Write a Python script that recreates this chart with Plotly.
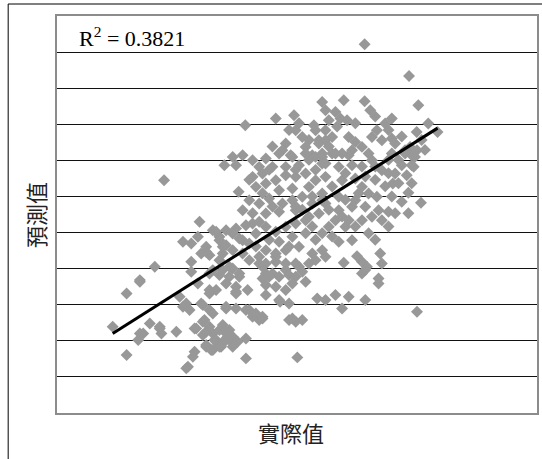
import plotly.graph_objects as go

actual = [
    928, 1062, 800, 865, 928, 945, 810, 1090, 840, 855, 875, 1010, 990, 1120, 1148, 1085,
    810, 830, 790, 880, 900, 920, 890, 860, 965, 950, 980, 1010, 1020, 1050, 1070, 800, 830, 940,
    660, 568, 715, 730, 775, 720, 740, 780, 750, 790, 690, 680, 705, 770, 810,
    530, 560, 505, 540, 590, 630, 670, 710, 750, 780, 800, 610, 730, 690, 650,
    590, 620, 630, 660, 690, 720, 750, 780, 810, 600, 670, 710, 760, 548,
    580, 610, 640, 680, 710, 740, 770, 800, 560, 630, 670, 720, 760, 430,
    470, 490, 530, 560, 600, 630, 660, 690, 720, 750, 710, 670,
    450, 500, 530, 560, 490, 520, 580, 630, 660, 690, 730, 770, 780, 620, 650, 690, 730, 550, 460,
    800, 840, 880, 810, 850, 890, 860, 900, 1010, 1050, 1080, 1040, 1070, 1020, 1055,
    990, 1060, 1040, 1098, 920, 940, 965, 900, 850, 810, 850, 890, 930, 970, 1000, 980, 950,
    920, 880, 840, 870, 820, 790, 800, 950, 980, 850, 890, 800, 810, 905, 865, 975, 980, 935, 920, 970,
    480, 510, 540, 570, 590, 610, 380, 405, 425, 490, 510, 550, 580, 500, 450, 435, 460,
    405, 295, 250, 405, 470, 500, 530, 550, 520, 490, 510, 540, 425, 460, 480, 575, 540, 620, 630,
    370, 390, 400, 380, 435, 460, 510, 540, 570, 590, 610, 280, 310, 315, 250, 360,
    415, 445, 460, 440, 470, 500, 520, 510, 480, 450, 465, 495, 570, 415, 410, 395, 570,
    610, 660, 690, 720, 760, 920, 630, 640, 670, 700, 720, 740, 750, 710, 630, 660, 690, 630, 670, 700,
    930, 970, 785, 810, 840, 880, 860, 930, 620, 700, 720, 740, 725,
    210, 250, 168, 310, 260, 245, 210, 390, 420, 440, 450, 470, 440, 460, 510, 540, 580, 600, 620, 710,
    490, 510, 530, 480, 500, 520, 450, 470, 490,
    323, 1086, 1065, 1086, 1076, 1013, 673,
    820, 845, 900, 960, 1000, 1040, 1100, 1110, 1030, 1000, 960, 920, 930, 960, 1000, 870,
    830, 870, 910, 1010, 1030, 1070, 760, 650, 700, 760, 820, 780, 720, 740, 770, 800,
    830, 860, 900, 940, 960, 1000, 1020, 1060, 780, 750, 700, 640, 600, 590, 650, 620,
    580, 640, 720, 770, 820, 515, 545, 475, 500, 530, 610, 660,
]
predicted = [
    1107, 1012, 934, 939, 936, 909, 909, 924, 904, 884, 879, 884, 869, 869, 844, 844,
    849, 829, 819, 829, 814, 799, 789, 779, 849, 829, 819, 824, 809, 789, 774, 769, 779, 779,
    884, 864, 894, 870, 864, 849, 829, 849, 799, 809, 809, 789, 774, 774, 819,
    769, 774, 744, 744, 759, 764, 779, 769, 779, 769, 749, 739, 744, 739, 739,
    709, 719, 689, 699, 714, 709, 719, 699, 709, 679, 669, 674, 679, 664,
    639, 629, 644, 629, 639, 649, 629, 639, 609, 599, 604, 609, 589, 574,
    549, 529, 539, 519, 539, 559, 544, 559, 569, 579, 529, 514,
    499, 499, 489, 479, 459, 439, 459, 489, 469, 489, 499, 479, 459, 439, 419, 429, 439, 409, 419,
    779, 779, 774, 749, 739, 744, 699, 704, 779, 779, 769, 744, 744, 719, 714,
    681, 661, 634, 631, 679, 659, 649, 639, 649, 629, 609, 619, 619, 609, 604, 579, 589,
    579, 579, 579, 559, 559, 599, 659, 759, 729, 514, 519, 489, 469, 471, 451, 479, 449, 439, 419, 404,
    544, 549, 554, 564, 569, 574, 514, 509, 529, 519, 504, 524, 509, 479, 484, 479, 474,
    454, 439, 399, 424, 429, 429, 434, 419, 409, 414, 389, 379, 389, 369, 369, 369, 364, 404, 449,
    349, 329, 309, 319, 329, 309, 314, 314, 309, 289, 279, 269, 259, 239, 239, 244,
    254, 279, 259, 234, 239, 249, 249, 224, 219, 204, 189, 199, 224, 184, 169, 139, 164,
    449, 454, 449, 449, 449, 454, 419, 409, 409, 414, 409, 424, 394, 389, 384, 379, 369, 354, 339, 329,
    429, 389, 344, 339, 354, 349, 314, 339, 284, 279, 274, 279, 167,
    359, 394, 259, 254, 239, 219, 174, 134, 254, 274, 244, 299, 324, 359, 319, 359, 309, 299, 289, 284,
    249, 244, 229, 214, 209, 219, 199, 189, 199,
    699, 304, 799, 789, 739, 689, 334,
    879, 860, 870, 890, 850, 830, 820, 790, 760, 760, 740, 740, 710, 700, 720, 720,
    680, 640, 660, 650, 690, 690, 760, 800, 850, 820, 800, 730, 620, 610, 560, 540,
    530, 590, 560, 540, 520, 560, 600, 600, 520, 540, 500, 520, 500, 600, 620, 660,
    700, 730, 730, 650, 610, 229, 214, 219, 264, 199, 469, 479,
]

r2_label = "R<sup>2</sup> = 0.3821"
x_title = "實際值"
y_title = "預測值"

# linear trendline
trend_slope = 0.629
trend_intercept = 133.3

x_range = [0, 1448]
y_range = [0, 1192]
n_grid = 11

trend_x = [min(actual), max(actual)]
trend_y = [trend_intercept + trend_slope * v for v in trend_x]

fig = go.Figure()
fig.add_trace(go.Scatter(
    x=actual, y=predicted, mode="markers",
    marker=dict(symbol="diamond", size=9.2, color="#989898", line=dict(width=0)),
    showlegend=False, hoverinfo="skip",
))
fig.add_trace(go.Scatter(
    x=trend_x, y=trend_y, mode="lines",
    line=dict(color="black", width=3),
    showlegend=False, hoverinfo="skip",
))

fig.update_layout(
    width=542, height=459,
    margin=dict(l=57, r=3, t=16, b=46),
    paper_bgcolor="white", plot_bgcolor="white",
    xaxis=dict(range=x_range, showgrid=False, zeroline=False, showticklabels=False,
               ticks="", showline=True, linecolor="#8c8c8c", linewidth=2, mirror=True),
    yaxis=dict(range=y_range, tick0=0, dtick=(y_range[1] - y_range[0]) / n_grid,
               showgrid=True, gridcolor="#111111", gridwidth=1, zeroline=False,
               showticklabels=False, ticks="", showline=True, linecolor="#8c8c8c",
               linewidth=2, mirror=True),
    annotations=[
        dict(text=r2_label, xref="paper", yref="paper", x=0.041, y=0.947,
             xanchor="left", yanchor="middle", showarrow=False,
             font=dict(family="Liberation Serif", size=22, color="black")),
        dict(text=x_title, xref="paper", yref="paper", x=0.488, y=-0.048,
             xanchor="center", yanchor="middle", showarrow=False,
             font=dict(family="Noto Sans CJK TC", size=22, color="#222222")),
        dict(text=y_title, xref="paper", yref="paper", x=-0.0456, y=0.499,
             xanchor="center", yanchor="middle", showarrow=False, textangle=-90,
             font=dict(family="Noto Sans CJK TC", size=22, color="#222222")),
    ],
    shapes=[
        dict(type="line", xref="paper", yref="paper", x0=-0.1017, x1=1.2, y0=1.0302, y1=1.0302,
             line=dict(color="black", width=1)),
        dict(type="line", xref="paper", yref="paper", x0=-0.1017, x1=-0.1017, y0=1.0302, y1=-0.3,
             line=dict(color="black", width=1)),
    ],
)

fig.write_html("out.html")
